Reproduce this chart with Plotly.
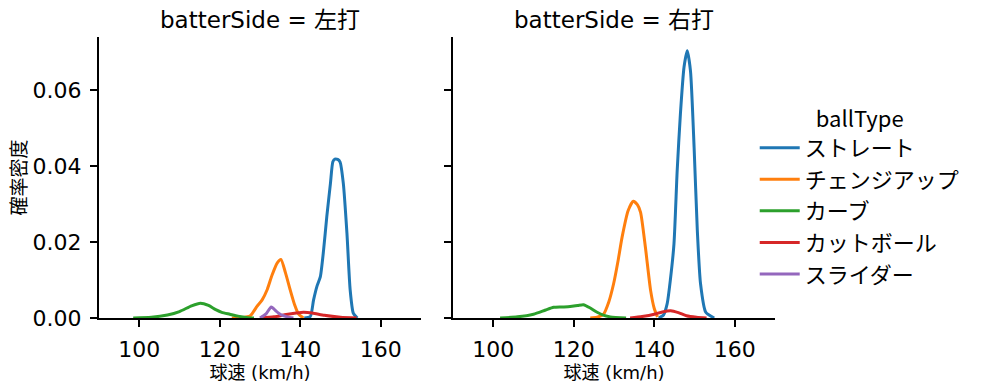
import plotly.graph_objects as go

FONT = "DejaVu Sans, Noto Sans CJK JP"

ball_types = ["ストレート", "チェンジアップ", "カーブ", "カットボール", "スライダー"]
colors = ["#1f77b4", "#ff7f0e", "#2ca02c", "#d62728", "#9467bd"]
panels = ["左打", "右打"]

# KDE curves: (speed km/h, density)
left_straight_x = [141, 142.5, 143.3, 144.2, 145.0, 145.8, 146.6, 147.5, 148.1, 148.6, 149.3, 149.9, 150.7, 151.6, 152.4, 153.2, 154.2]
left_straight_y = [0, 0.0004, 0.0047, 0.0085, 0.0109, 0.0179, 0.0267, 0.0354, 0.0411, 0.0418, 0.0417, 0.041, 0.0354, 0.0223, 0.0074, 0.0012, 0]
left_change_x = [123, 125.5, 127.6, 129.2, 130.5, 131.8, 133.0, 134.3, 135.2, 136.3, 137.5, 138.6, 139.6, 140.8]
left_change_y = [0, 0.0001, 0.0006, 0.003, 0.0047, 0.0075, 0.0113, 0.0145, 0.0154, 0.012, 0.0074, 0.0035, 0.001, 0]
left_curve_x = [98.5, 103, 107, 110, 113, 115.2, 117.2, 119.0, 120.5, 122.5, 124.5, 127, 128.5]
left_curve_y = [0, 0.0002, 0.0008, 0.0017, 0.0032, 0.0039, 0.0033, 0.0022, 0.0015, 0.0010, 0.0005, 0.0001, 0]
left_cut_x = [130, 133.5, 136.5, 139, 140.8, 143, 146, 150, 154]
left_cut_y = [0, 0.0003, 0.0009, 0.0013, 0.0015, 0.0013, 0.0007, 0.0002, 0]
left_slider_x = [130, 131.5, 132.8, 134.0, 135.3, 136.8, 138.3]
left_slider_y = [0, 0.0011, 0.0029, 0.0018, 0.0008, 0.0003, 0]

right_straight_x = [141.1, 142.3, 143.2, 144.0, 144.9, 145.7, 146.5, 147.4, 148.2, 149.0, 149.9, 150.7, 151.5, 152.8, 154.9]
right_straight_y = [0, 0.0008, 0.0037, 0.0100, 0.0195, 0.0388, 0.0537, 0.066, 0.0703, 0.065, 0.0449, 0.023, 0.009, 0.0015, 0]
right_change_x = [124.1, 125.8, 127.4, 128.7, 129.9, 131.0, 132.0, 133.5, 134.8, 135.8, 136.6, 137.8, 139.1, 140.0, 140.8]
right_change_y = [0, 0.0002, 0.001, 0.0042, 0.009, 0.015, 0.0212, 0.0282, 0.0307, 0.0298, 0.0278, 0.0186, 0.0072, 0.0025, 0.0003]
right_curve_x = [101.7, 106, 110, 113, 115, 117, 119.1, 121, 122.4, 124, 125.8, 127.5, 129.1, 133]
right_curve_y = [0, 0.0003, 0.001, 0.0021, 0.0028, 0.0029, 0.003, 0.0033, 0.0035, 0.0027, 0.0015, 0.0007, 0.0003, 0]
right_cut_x = [134, 137, 140, 142, 144.1, 146, 148, 150.5, 153]
right_cut_y = [0, 0.0004, 0.001, 0.0016, 0.0019, 0.0014, 0.0006, 0.0002, 0]

curves = {
    ("左打", "ストレート"): (left_straight_x, left_straight_y),
    ("左打", "チェンジアップ"): (left_change_x, left_change_y),
    ("左打", "カーブ"): (left_curve_x, left_curve_y),
    ("左打", "カットボール"): (left_cut_x, left_cut_y),
    ("左打", "スライダー"): (left_slider_x, left_slider_y),
    ("右打", "ストレート"): (right_straight_x, right_straight_y),
    ("右打", "チェンジアップ"): (right_change_x, right_change_y),
    ("右打", "カーブ"): (right_curve_x, right_curve_y),
    ("右打", "カットボール"): (right_cut_x, right_cut_y),
}

x_ticks = [100, 120, 140, 160]
y_ticks = [0.0, 0.02, 0.04, 0.06]
y_tick_labels = ["0.00", "0.02", "0.04", "0.06"]

fig = go.Figure()
shown = set()
for pi, side in enumerate(panels):
    for bt, col in zip(ball_types, colors):
        if (side, bt) not in curves:
            continue
        xs, ys = curves[(side, bt)]
        fig.add_trace(go.Scatter(
            x=xs, y=ys, mode="lines", name=bt,
            line=dict(color=col, width=3, shape="spline", smoothing=0.6),
            xaxis="x" if pi == 0 else "x2", yaxis="y" if pi == 0 else "y2",
            legendgroup=bt, showlegend=bt not in shown,
            legendrank=ball_types.index(bt) + 1,
        ))
        shown.add(bt)

# page body has an 8px margin; figure is sized so the plot lands where the reference has it
W_PLOT = 676
d1 = [0, (421 - 99) / W_PLOT]
d2 = [(453 - 99) / W_PLOT, 1]

axis_common = dict(
    showline=True, linecolor="black", linewidth=2,
    ticks="outside", ticklen=7, tickwidth=2, tickcolor="black",
    showgrid=False, zeroline=False, mirror=False, automargin=False,
    ticklabelstandoff=4,
    tickfont=dict(family=FONT, size=22, color="black"),
)

fig.update_layout(
    width=991, height=383,
    margin=dict(l=91, r=224, t=29, b=73, autoexpand=False),
    plot_bgcolor="white", paper_bgcolor="white",
    font=dict(family=FONT, color="black"),
    xaxis=dict(domain=d1, range=[90, 170], tickvals=x_ticks, anchor="y",
               title=dict(text="球速 (km/h)", font=dict(size=18), standoff=0), **axis_common),
    xaxis2=dict(domain=d2, range=[90, 170], tickvals=x_ticks, anchor="y2",
                title=dict(text="球速 (km/h)", font=dict(size=18), standoff=0), **axis_common),
    yaxis=dict(range=[0, 0.0739], tickvals=y_ticks, ticktext=y_tick_labels, anchor="x",
               title=dict(text="確率密度", font=dict(size=19), standoff=8), **axis_common),
    yaxis2=dict(range=[0, 0.0739], tickvals=y_ticks, showticklabels=False, anchor="x2",
                **axis_common),
    legend=dict(
        title=dict(text="ballType", font=dict(size=22), side="top center"),
        font=dict(family="Noto Sans CJK JP", size=22), x=0.970, y=0.782, xanchor="left", yanchor="top",
        traceorder="grouped", tracegroupgap=0, bgcolor="rgba(0,0,0,0)",
        itemwidth=40,
    ),
    annotations=[
        dict(text=f"batterSide = {panels[0]}", x=(d1[0] + d1[1]) / 2, y=1.0, xref="paper", yref="paper",
             xanchor="center", yanchor="bottom", yshift=2, showarrow=False, font=dict(size=23)),
        dict(text=f"batterSide = {panels[1]}", x=(d2[0] + d2[1]) / 2, y=1.0, xref="paper", yref="paper",
             xanchor="center", yanchor="bottom", yshift=2, showarrow=False, font=dict(size=23)),
    ],
)

fig.write_html("out.html")
